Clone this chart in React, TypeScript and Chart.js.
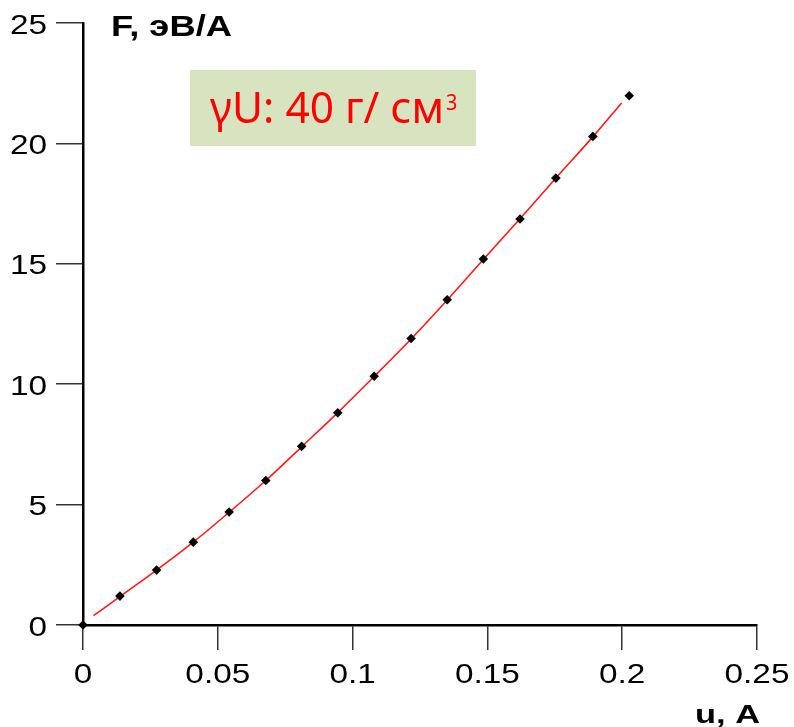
import React, { useEffect, useRef } from "react";
import { Chart, registerables } from "chart.js";

Chart.register(...registerables);

// Measured points (black diamonds)
const uMeasured = [0, 0.0137, 0.0273, 0.0409, 0.0542, 0.0678, 0.0811, 0.0945, 0.108, 0.1217, 0.1351, 0.1485, 0.1621, 0.1754, 0.1891, 0.2026];
const fMeasured = [0, 1.2, 2.28, 3.44, 4.69, 6.0, 7.42, 8.81, 10.33, 11.9, 13.51, 15.2, 16.86, 18.56, 20.29, 21.98];

// Fitted curve (red line)
const uFit = [0.0039, 0.0137, 0.0273, 0.0409, 0.0542, 0.0678, 0.0811, 0.0945, 0.108, 0.1217, 0.1351, 0.1485, 0.1621, 0.1754, 0.1891, 0.1998];
const fFit = [0.39, 1.18, 2.28, 3.44, 4.68, 6.0, 7.4, 8.82, 10.32, 11.88, 13.5, 15.18, 16.87, 18.56, 20.27, 21.68];

// Axis ranges and titles
const uMin = 0;
const uMax = 0.25;
const uStep = 0.05;
const fMin = 0;
const fMax = 25;
const fStep = 5;
const yTitle = "F, эВ/А";
const xTitle = "u, A";
const noteMain = "γU: 40 г/ см";
const noteSup = "3";

const FAMILY = "'Liberation Sans', Arial, sans-serif";
const TICK_FONT = `28px ${FAMILY}`;
const TICK_STRETCH = 1.19;

function formatTick(v: number): string {
  return String(Number(v.toFixed(3)));
}

function drawScaled(
  ctx: CanvasRenderingContext2D,
  text: string,
  font: string,
  x: number,
  baseline: number,
  sx: number,
  align: "left" | "center" | "right",
  color: string
) {
  ctx.save();
  ctx.font = font;
  ctx.fillStyle = color;
  ctx.textAlign = "left";
  ctx.textBaseline = "alphabetic";
  const w = ctx.measureText(text).width * sx;
  const x0 = align === "right" ? x - w : align === "center" ? x - w / 2 : x;
  ctx.translate(x0, baseline);
  ctx.scale(sx, 1);
  ctx.fillText(text, 0, 0);
  ctx.restore();
}

function drawFitted(
  ctx: CanvasRenderingContext2D,
  text: string,
  font: string,
  x: number,
  baseline: number,
  width: number,
  color: string
) {
  ctx.save();
  ctx.font = font;
  const w = ctx.measureText(text).width;
  ctx.restore();
  drawScaled(ctx, text, font, x, baseline, width / w, "left", color);
}

const labelsPlugin = {
  id: "axisLabelsAndNote",
  afterDraw(chart: Chart) {
    const ctx = chart.ctx;
    const xs: any = chart.scales.x;
    const ys: any = chart.scales.y;

    // tick labels
    ys.ticks.forEach((t: any) => {
      const py = ys.getPixelForValue(t.value);
      drawScaled(ctx, formatTick(t.value), TICK_FONT, ys.right - 36, py + 10.5, TICK_STRETCH, "right", "#000");
    });
    xs.ticks.forEach((t: any) => {
      const px = xs.getPixelForValue(t.value);
      drawScaled(ctx, formatTick(t.value), TICK_FONT, px, xs.top + 58, TICK_STRETCH, "center", "#000");
    });

    // axis titles
    drawFitted(ctx, yTitle, `bold 29px ${FAMILY}`, 111, 36, 121, "#000");
    drawFitted(ctx, xTitle, `bold 25px ${FAMILY}`, 695, 723, 65, "#000");

    // note box
    ctx.save();
    ctx.fillStyle = "#d8e4bf";
    ctx.fillRect(190, 70, 286, 76);
    ctx.restore();
    drawFitted(ctx, noteMain, "43px 'Noto Sans', sans-serif", 210, 123, 234, "#ff0000");
    drawScaled(ctx, noteSup, "22px 'Noto Sans', sans-serif", 446, 110, 0.9, "left", "#ff0000");
  },
};

export default function App() {
  const canvasRef = useRef<HTMLCanvasElement | null>(null);

  useEffect(() => {
    if (!canvasRef.current) return;
    const measured = uMeasured.map((u, i) => ({ x: u, y: fMeasured[i] }));
    const fit = uFit.map((u, i) => ({ x: u, y: fFit[i] }));

    const chart = new Chart(canvasRef.current, {
      type: "scatter",
      data: {
        datasets: [
          {
            label: "fit",
            data: fit,
            showLine: true,
            borderColor: "#ff1a1a",
            borderWidth: 1.6,
            pointRadius: 0,
            cubicInterpolationMode: "monotone",
            clip: false,
            order: 2,
          },
          {
            label: "measured",
            data: measured,
            pointStyle: "rectRot",
            pointRadius: 4.8,
            backgroundColor: "#000",
            borderColor: "#000",
            borderWidth: 0,
            clip: false,
            order: 1,
          },
        ],
      },
      options: {
        responsive: false,
        animation: false,
        layout: { padding: { top: 23, right: 37, left: 0, bottom: 0 } },
        plugins: { legend: { display: false }, tooltip: { enabled: false } },
        scales: {
          x: {
            type: "linear",
            min: uMin,
            max: uMax,
            ticks: { stepSize: uStep, display: false },
            grid: { drawOnChartArea: false, tickLength: 25, color: "#333", lineWidth: 1.5 },
            border: { color: "#000", width: 2.5 },
            afterFit: (s: any) => {
              s.height = 102;
            },
          },
          y: {
            type: "linear",
            min: fMin,
            max: fMax,
            ticks: { stepSize: fStep, display: false },
            grid: { drawOnChartArea: false, tickLength: 27, color: "#333", lineWidth: 1.5 },
            border: { color: "#000", width: 2.5 },
            afterFit: (s: any) => {
              s.width = 83;
            },
          },
        },
      },
      plugins: [labelsPlugin],
    });
    return () => chart.destroy();
  }, []);

  return (
    <div style={{ position: "absolute", left: 0, top: 0, width: 794, height: 727, background: "#fff" }}>
      <canvas ref={canvasRef} width={794} height={727} style={{ display: "block" }} />
    </div>
  );
}
